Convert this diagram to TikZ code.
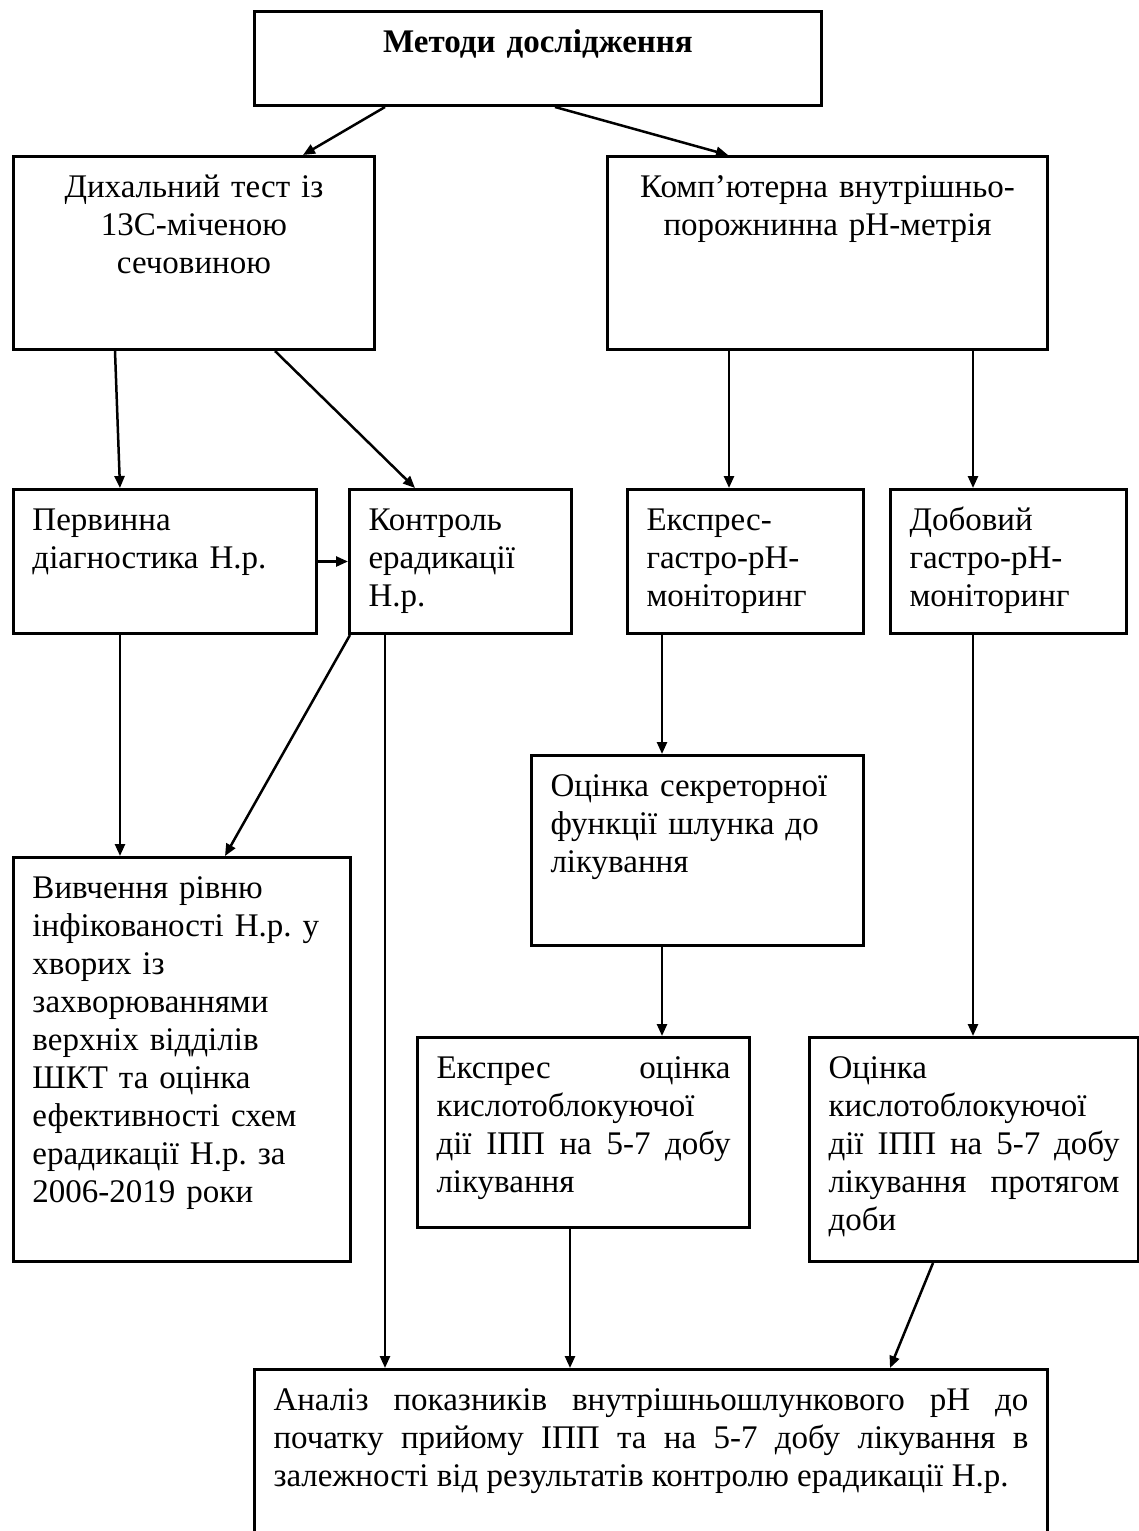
\documentclass[tikz,border=0pt]{standalone}
\usepackage{fontspec}
\setmainfont{Liberation Serif}
\usepackage{tikz}
\usetikzlibrary{arrows.meta,calc}
\frenchspacing

\begin{document}
\begin{tikzpicture}[->,>={Triangle[length=6pt,width=5pt]},line width=1.25pt,
                    x=0.5pt,y=-0.5pt]
  \tikzstyle{box}=[draw,line width=1.5pt,anchor=north west,inner xsep=9.5pt,
                   inner ysep=0pt,text height=20.5pt,align=left,
                   font=\fontsize{16.5}{19}\selectfont]

  \clip (0,0) rectangle (1139,1531);

  \node[box,align=center,text width=264.5pt,text depth=26.5pt] (top) at (253,10)
        {\textbf{Методи дослідження}};
  \node[box,align=center,text width=161.5pt,text depth=76pt] (breath) at (12,155)
        {Дихальний тест із\\13С-міченою\\сечовиною};
  \node[box,align=center,text width=201pt,text depth=76pt] (phm) at (606,155)
        {Комп’ютерна внутрішньо-\\порожнинна pH-метрія};
  \node[box,text width=132.5pt,text depth=51.5pt] (prim) at (12,488)
        {Первинна\\діагностика Н.р.};
  \node[box,text width=92pt,text depth=51.5pt] (ctrl) at (348,488)
        {Контроль\\ерадикації\\Н.р.};
  \node[box,text width=99pt,text depth=51.5pt] (expr) at (626,488)
        {Експрес-\\гастро-pH-\\моніторинг};
  \node[box,text width=99pt,text depth=51.5pt] (daily) at (889,488)
        {Добовий\\гастро-pH-\\моніторинг};
  \node[box,text width=147pt,text depth=74.5pt] (secr) at (530,754)
        {Оцінка секреторної\\функції шлунка до\\лікування};
  \node[box,text width=149.5pt,text depth=181.5pt] (study) at (12,856)
        {Вивчення рівню\\інфікованості Н.р. у\\хворих із\\захворюваннями\\верхніх відділів\\ШКТ та оцінка\\ефективності схем\\ерадикації Н.р. за\\2006-2019 роки};
  \node[box,align=justify,text width=147pt,text depth=74.5pt] (exeval) at (416,1036)
        {Експрес оцінка\linebreak кислотоблокуючої\\дії ІПП на 5-7 добу\linebreak лікування};
  \node[box,align=justify,text width=145.5pt,text depth=91.5pt] (dayeval) at (808,1036)
        {Оцінка\\кислотоблокуючої\\дії ІПП на 5-7 добу\linebreak лікування протягом\linebreak доби};
  \node[box,align=justify,text width=377.5pt,text depth=79.5pt] (anal) at (253,1368)
        {Аналіз показників внутрішньошлункового pH до\linebreak початку прийому ІПП та на 5-7 добу лікування в\linebreak залежності від результатів контролю ерадикації Н.р.};

  \draw ($(top.south west)+(132,0)$)    -- ($(breath.north west)+(291,0)$);
  \draw ($(top.south west)+(302,0)$)    -- ($(phm.north west)+(122,0)$);
  \draw ($(breath.south west)+(103,0)$) -- ($(prim.north west)+(108,0)$);
  \draw ($(breath.south west)+(263,0)$) -- ($(ctrl.north west)+(67,0)$);
  \draw ($(phm.south west)+(123,0)$)    -- ($(expr.north west)+(103,0)$);
  \draw ($(phm.south west)+(367,0)$)    -- ($(daily.north west)+(84,0)$);
  \draw (prim.east) -- (ctrl.west);
  \draw ($(prim.south west)+(108,0)$)   -- ($(study.north west)+(108,0)$);
  \draw ($(ctrl.south west)+(2,0)$)     -- ($(study.north west)+(213,0)$);
  \draw ($(ctrl.south west)+(37,0)$)    -- ($(anal.north west)+(132,0)$);
  \draw ($(expr.south west)+(36,0)$)    -- ($(secr.north west)+(132,0)$);
  \draw ($(secr.south west)+(132,0)$)   -- ($(exeval.north west)+(246,0)$);
  \draw ($(daily.south west)+(84,0)$)   -- ($(dayeval.north west)+(165,0)$);
  \draw ($(exeval.south west)+(154,0)$) -- ($(anal.north west)+(317,0)$);
  \draw ($(dayeval.south west)+(125,0)$) -- ($(anal.north west)+(637,0)$);
\end{tikzpicture}
\end{document}
